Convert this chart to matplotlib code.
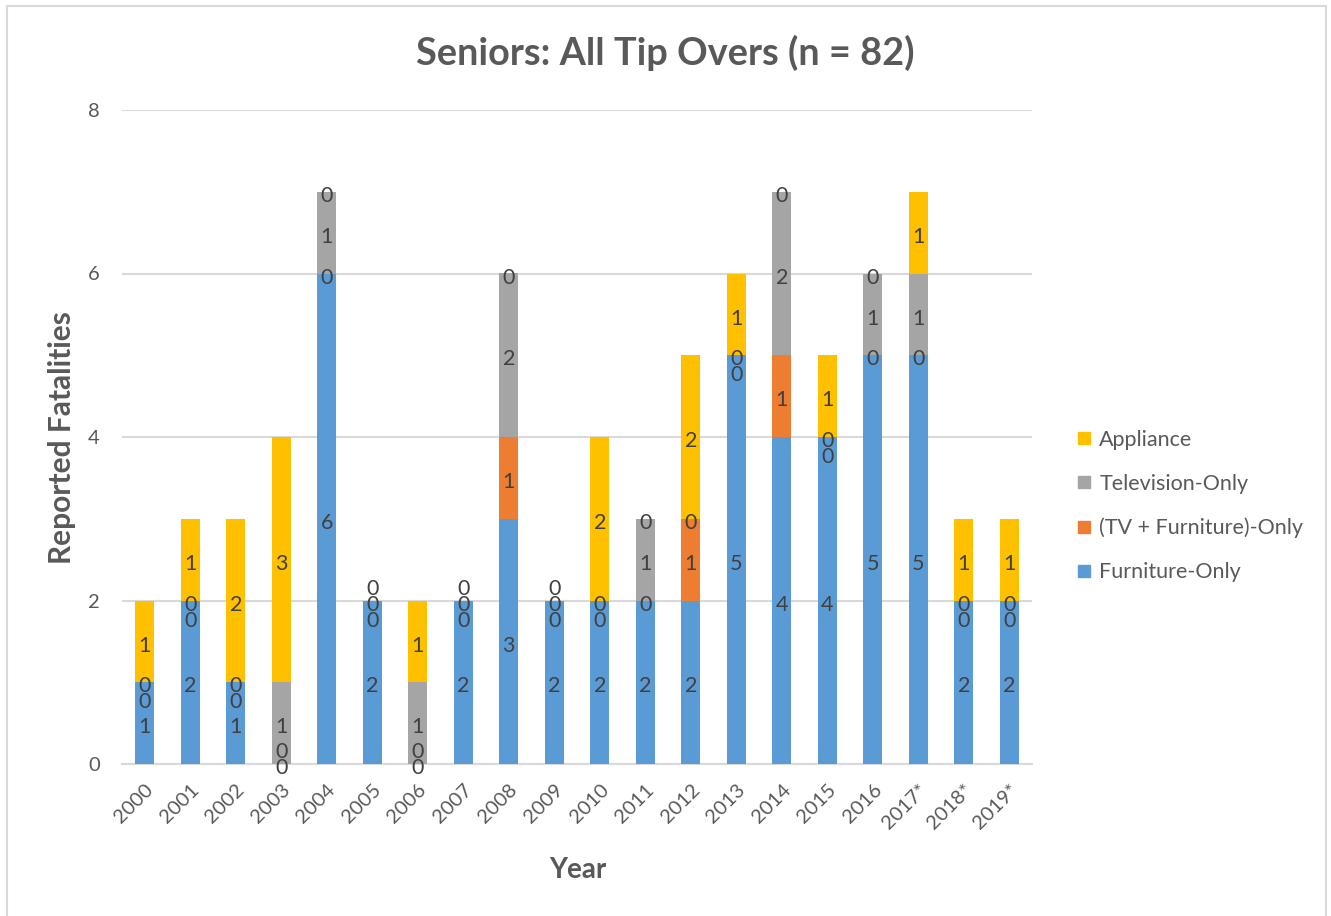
import matplotlib
matplotlib.use("Agg")
import matplotlib.pyplot as plt
from matplotlib.lines import Line2D
from matplotlib.patches import Rectangle
from matplotlib.transforms import offset_copy
import numpy as np

plt.rcParams['font.family'] = ['Lato', 'DejaVu Sans']

years = ['2000', '2001', '2002', '2003', '2004', '2005', '2006', '2007', '2008', '2009',
         '2010', '2011', '2012', '2013', '2014', '2015', '2016', '2017*', '2018*', '2019*']
furniture_only = [1, 2, 1, 0, 6, 2, 0, 2, 3, 2, 2, 2, 2, 5, 4, 4, 5, 5, 2, 2]
tv_furniture_only = [0, 0, 0, 0, 0, 0, 0, 0, 1, 0, 0, 0, 1, 0, 1, 0, 0, 0, 0, 0]
television_only = [0, 0, 0, 1, 1, 0, 1, 0, 2, 0, 0, 1, 0, 0, 2, 0, 1, 1, 0, 0]
appliance = [1, 1, 2, 3, 0, 0, 1, 0, 0, 0, 2, 0, 2, 1, 0, 1, 0, 1, 1, 1]

series_names = ['Furniture-Only', '(TV + Furniture)-Only', 'Television-Only', 'Appliance']
series_values = [furniture_only, tv_furniture_only, television_only, appliance]
colors = ['#5B9BD5', '#ED7D31', '#A5A5A5', '#FFC000']

W, H = 1331, 916
fig = plt.figure(figsize=(W / 100, H / 100), dpi=100)
ax = fig.add_axes([122 / W, 1 - 764 / H, (1032 - 122) / W, (764 - 110) / H])

x = np.arange(len(years))
bar_w = 0.42
bottom = np.zeros(len(years))
bottoms = []
for vals, col, name in zip(series_values, colors, series_names):
    vals = np.array(vals, dtype=float)
    ax.bar(x, vals, bar_w, bottom=bottom, color=col, label=name, zorder=3, linewidth=0)
    bottoms.append(bottom.copy())
    bottom = bottom + vals

# Data labels (Excel style, incl. zeros, with simple overlap avoidance)
step = 11.5  # points
lbl_size = 15.5
for i in range(len(years)):
    groups = {}
    for s, vals in enumerate(series_values):
        v = vals[i]
        yc = bottoms[s][i] + v / 2.0
        if v == 0:
            groups.setdefault(yc, []).append(s)
        else:
            tr = offset_copy(ax.transData, fig=fig, x=0, y=-3, units='points')
            ax.text(x[i], yc, str(v), ha='center', va='center', fontsize=lbl_size,
                    color='#404040', transform=tr, zorder=5)
    for yc, members in groups.items():
        n = len(members)
        if yc == 0:
            offs = [k * step for k in range(n)]
        elif n == 1:
            offs = [0]
        elif n == 2:
            offs = [-step, 0]
        else:
            offs = [(k - 1) * step for k in range(n)]
        for k, s in enumerate(members):
            tr = offset_copy(ax.transData, fig=fig, x=0, y=offs[k] - 3, units='points')
            ax.text(x[i], yc, '0', ha='center', va='center', fontsize=lbl_size,
                    color='#404040', transform=tr, zorder=5)

ax.set_xlim(-0.5, len(years) - 0.5)
ax.set_ylim(0, 8)
ax.set_yticks([0, 2, 4, 6, 8])
ax.yaxis.grid(True, color='#D9D9D9', linewidth=1.5, zorder=0)
ax.set_axisbelow(True)
for sp in ['top', 'right', 'left']:
    ax.spines[sp].set_visible(False)
ax.spines['bottom'].set_color('#D9D9D9')
ax.spines['bottom'].set_linewidth(1.5)
ax.tick_params(axis='both', length=0, colors='#595959', labelsize=14.5)
ax.tick_params(axis='y', pad=16)
ax.set_xticks(x)
ax.set_xticklabels(years, rotation=45, ha='right', rotation_mode='anchor')
ax.tick_params(axis='x', pad=12)

fig.text(62 / W, 1 - 438 / H, 'Reported Fatalities', rotation=90, ha='center', va='center',
         fontsize=21.5, fontweight='bold', color='#595959')
fig.text(578 / W, 1 - 870 / H, 'Year', ha='center', va='center',
         fontsize=20, fontweight='bold', color='#595959')

fig.text(0.5, 1 - 53 / H, 'Seniors: All Tip Overs (n = 82)', ha='center', va='center',
         fontsize=27.3, fontweight='bold', color='#595959')

handles = [Line2D([0], [0], marker='s', color='none', markerfacecolor=c, markeredgecolor=c,
                  markersize=9) for c in colors]
handles = handles[::-1]
labels = series_names[::-1]
fig.legend(handles, labels, loc='center left', bbox_to_anchor=(1068 / W, 1 - 506 / H),
           frameon=False, fontsize=15.5, labelcolor='#595959', handlelength=0.7,
           handletextpad=0.35, labelspacing=1.12, borderaxespad=0)

# chart border
border = Rectangle((7 / W, -0.02), (1326 - 7) / W, 1 - 6 / H + 0.02, transform=fig.transFigure,
                   fill=False, edgecolor='#D9D9D9', linewidth=1.5)
fig.patches.append(border)

fig.savefig('out.png', dpi=100)
